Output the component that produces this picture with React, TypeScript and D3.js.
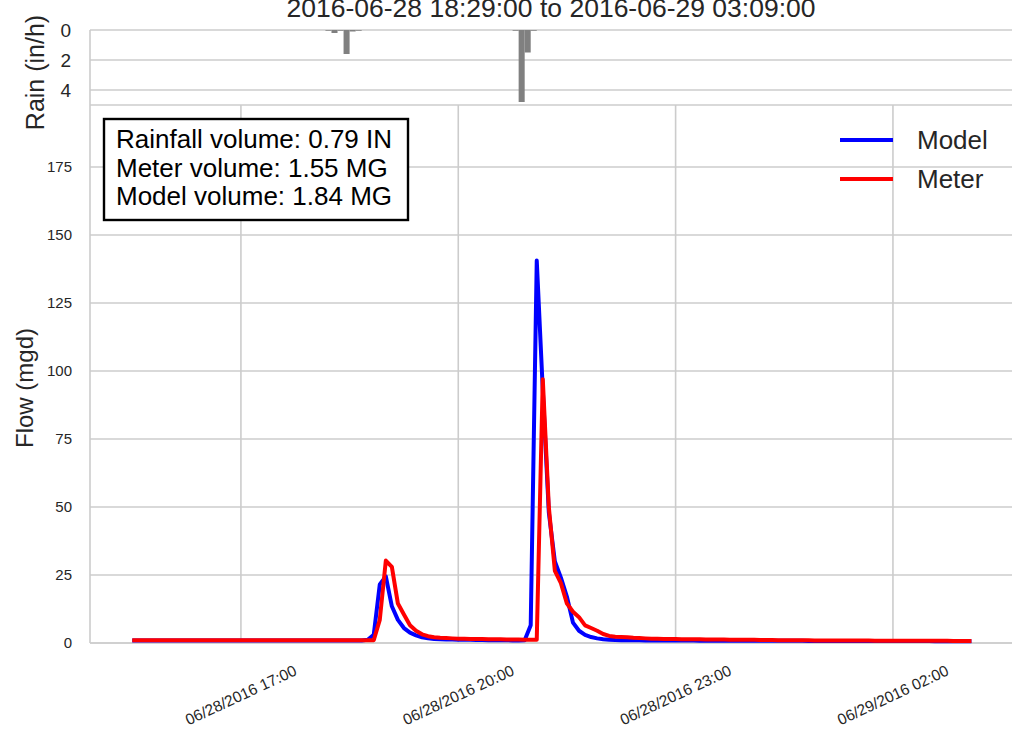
import React from 'react';
import * as d3 from 'd3';

// flow series, 5-minute steps from 06/28/2016 15:30
const START = new Date(2016, 5, 28, 15, 30);
const STEP_MIN = 5;

const modelFlow = [
  0.9, 0.9, 0.9, 0.9, 0.9, 0.9, 0.9, 0.9, 0.9, 0.9,
  0.9, 0.9, 0.9, 0.9, 0.9, 0.9, 0.9, 0.9, 0.9, 0.9,
  0.9, 0.9, 0.9, 0.9, 0.9, 0.9, 0.9, 0.9, 0.9, 0.9,
  0.9, 0.9, 0.9, 0.9, 0.9, 0.9, 0.9, 0.9, 0.95, 1.2,
  3.0, 21.5, 24.5, 13.5, 8.5, 5.5, 3.8, 2.8, 2.1, 1.7,
  1.5, 1.4, 1.3, 1.25, 1.2, 1.2, 1.15, 1.1, 1.1, 1.05,
  1.0, 1.0, 1.0, 0.95, 0.95, 1.0, 6.5, 140.6, 93, 48,
  30, 24, 17, 7.5, 4.5, 3.0, 2.2, 1.7, 1.4, 1.2,
  1.1, 1.05, 1.0, 1.0, 1.0, 0.95, 0.95, 0.95, 0.9, 0.9,
  0.9, 0.9, 0.9, 0.9, 0.85, 0.85, 0.85, 0.85, 0.85, 0.85,
  0.85, 0.8, 0.8, 0.8, 0.8, 0.8, 0.8, 0.8, 0.8, 0.8,
  0.8, 0.8, 0.75, 0.75, 0.75, 0.75, 0.75, 0.75, 0.75, 0.75,
  0.75, 0.75, 0.7, 0.7, 0.7, 0.7, 0.7, 0.7, 0.7, 0.7,
  0.7, 0.7, 0.7, 0.65, 0.65, 0.65, 0.65, 0.65, 0.65, 0.65,
];

const meterFlow = [
  1.0, 1.0, 1.0, 1.0, 1.0, 1.0, 1.0, 1.0, 1.0, 1.0,
  1.0, 1.0, 1.0, 1.0, 1.0, 1.0, 1.0, 1.0, 1.0, 1.0,
  1.0, 1.0, 1.0, 1.0, 1.0, 1.0, 1.0, 1.0, 1.0, 1.0,
  1.0, 1.0, 1.0, 1.0, 1.0, 1.0, 1.0, 1.0, 1.0, 1.0,
  1.0, 8.5, 30.3, 28, 14.5, 10.5, 6.5, 4.5, 3.2, 2.5,
  2.1, 1.9, 1.8, 1.7, 1.6, 1.6, 1.5, 1.5, 1.45, 1.4,
  1.4, 1.35, 1.3, 1.3, 1.25, 1.2, 1.2, 1.2, 97, 50,
  26.5, 22, 14.5, 11.5, 9.5, 6.5, 5.5, 4.5, 3.3, 2.6,
  2.3, 2.2, 2.1, 1.9, 1.8, 1.7, 1.6, 1.55, 1.5, 1.5,
  1.45, 1.4, 1.4, 1.35, 1.35, 1.3, 1.3, 1.25, 1.25, 1.2,
  1.2, 1.2, 1.15, 1.15, 1.1, 1.1, 1.1, 1.05, 1.05, 1.0,
  1.0, 1.0, 1.0, 0.95, 0.95, 0.95, 0.95, 0.9, 0.9, 0.9,
  0.9, 0.9, 0.9, 0.85, 0.85, 0.85, 0.85, 0.85, 0.85, 0.8,
  0.8, 0.8, 0.8, 0.8, 0.8, 0.8, 0.75, 0.75, 0.75, 0.75,
];

// rainfall intensity (in/h), 5-minute bars
const rainTimes = ['18:10', '18:15', '18:20', '18:25', '18:30', '18:35', '20:45', '20:50', '20:55', '21:00'];
const rainValues = [0.05, 0.2, 0.05, 1.6, 0.1, 0.05, 0.05, 4.8, 1.5, 0.05];

const flowTicks = [0, 25, 50, 75, 100, 125, 150, 175];
const rainTicks = [0, 2, 4];
const xTickTimes = ['2016-06-28 17:00', '2016-06-28 20:00', '2016-06-28 23:00', '2016-06-29 02:00'];

const seriesNames = ['Model', 'Meter'];
const seriesColors = ['#0000ff', '#ff0000'];
const infoLines = ['Rainfall volume: 0.79 IN', 'Meter volume: 1.55 MG', 'Model volume: 1.84 MG'];
const title = '2016-06-28 18:29:00 to 2016-06-29 03:09:00';

const W = 1012;
const H = 732;
const FONT = '"Liberation Sans", Arial, sans-serif';
const GRID = '#cccccc';
const TXT = '#262626';

const parse = d3.timeParse('%Y-%m-%d %H:%M');
const fmt = d3.timeFormat('%m/%d/%Y %H:%M');

export default function App() {
  const left = 90, right = 1012;
  const mainTop = 105, mainBottom = 643;
  const rainTop = 30, rainBottom = 105;

  const x = d3.scaleTime()
    .domain([new Date(2016, 5, 28, 14, 55), new Date(2016, 5, 29, 3, 38, 36)])
    .range([left, right]);
  const y = d3.scaleLinear().domain([0, 197.8]).range([mainBottom, mainTop]);
  const yr = d3.scaleLinear().domain([0, 5.0]).range([rainTop, rainBottom]);

  const times = modelFlow.map((_, i) => d3.timeMinute.offset(START, i * STEP_MIN));
  const line = d3.line<number>()
    .x((_, i) => x(times[i]))
    .y(d => y(d));

  const rainDates = rainTimes.map(t => parse('2016-06-28 ' + t) as Date);
  const xTicks = xTickTimes.map(t => parse(t) as Date);

  return (
    <svg width={W} height={H} style={{ position: 'absolute', left: 0, top: 0, background: '#fff' }} fontFamily={FONT}>
      <rect x={0} y={0} width={W} height={H} fill="#fff" />

      {/* rain panel */}
      {rainTicks.map(t => (
        <line key={'rg' + t} x1={left} x2={right} y1={yr(t)} y2={yr(t)} stroke={GRID} strokeWidth={1.6} />
      ))}
      <line x1={left} x2={left} y1={rainTop} y2={rainBottom} stroke={GRID} strokeWidth={1.6} />
      <line x1={left} x2={right} y1={rainBottom} y2={rainBottom} stroke={GRID} strokeWidth={1.6} />
      {rainDates.map((d, i) => (
        <rect key={'rb' + i} x={x(d)} y={yr(0)} width={x(d3.timeMinute.offset(d, 5)) - x(d)}
          height={yr(rainValues[i]) - yr(0)} fill="#808080" />
      ))}
      {rainTicks.map(t => (
        <text key={'rt' + t} x={71} y={yr(t)} dy="0.35em" textAnchor="end" fontSize={19} fill={TXT}>{t}</text>
      ))}
      <text transform={`translate(44,${(rainTop + rainBottom) / 2 + 5}) rotate(-90)`} textAnchor="middle" fontSize={25} fill={TXT}>Rain (in/h)</text>
      <text x={(left + right) / 2} y={17} textAnchor="middle" fontSize={26.5} fill={TXT}>{title}</text>

      {/* flow panel */}
      {flowTicks.map(t => (
        <line key={'fg' + t} x1={left} x2={right} y1={y(t)} y2={y(t)} stroke={GRID} strokeWidth={1.6} />
      ))}
      {xTicks.map((d, i) => (
        <line key={'xg' + i} x1={x(d)} x2={x(d)} y1={mainTop} y2={mainBottom} stroke={GRID} strokeWidth={1.6} />
      ))}
      <line x1={left} x2={left} y1={mainTop} y2={mainBottom} stroke={GRID} strokeWidth={1.6} />
      <line x1={left} x2={right} y1={mainBottom} y2={mainBottom} stroke={GRID} strokeWidth={1.6} />

      {flowTicks.map(t => (
        <text key={'ft' + t} x={72} y={y(t)} dy="0.35em" textAnchor="end" fontSize={15} fill={TXT}>{t}</text>
      ))}
      {xTicks.map((d, i) => (
        <text key={'xt' + i} transform={`translate(${x(d)},${695}) rotate(-25)`} textAnchor="middle" dy="0.35em"
          fontSize={15.5} fill={TXT}>{fmt(d)}</text>
      ))}
      <text transform={`translate(33,${(mainTop + mainBottom) / 2 + 14}) rotate(-90)`} textAnchor="middle" fontSize={24} fill={TXT}>Flow (mgd)</text>

      <path d={line(modelFlow) || ''} fill="none" stroke={seriesColors[0]} strokeWidth={4} strokeLinejoin="round" />
      <path d={line(meterFlow) || ''} fill="none" stroke={seriesColors[1]} strokeWidth={4} strokeLinejoin="round" />

      {/* info box */}
      <rect x={104} y={119} width={304} height={101} fill="#fff" stroke="#000" strokeWidth={2.4} />
      {infoLines.map((s, i) => (
        <text key={'il' + i} x={116} y={148 + i * 28.5} fontSize={26} fill="#000">{s}</text>
      ))}

      {/* legend */}
      {seriesNames.map((s, i) => (
        <g key={'lg' + i}>
          <line x1={840} x2={893} y1={140 + i * 39} y2={140 + i * 39} stroke={seriesColors[i]} strokeWidth={4} />
          <text x={917} y={140 + i * 39} dy="0.35em" fontSize={26} fill={TXT}>{s}</text>
        </g>
      ))}
    </svg>
  );
}
